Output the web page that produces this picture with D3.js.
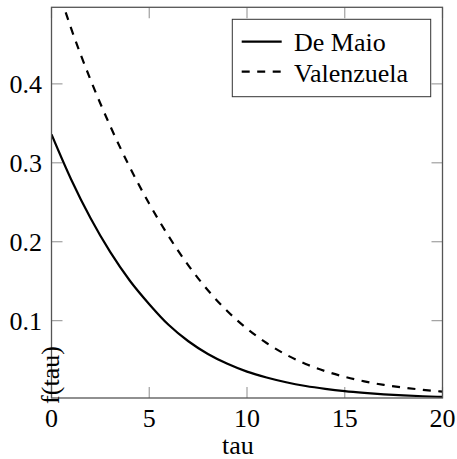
<!DOCTYPE html>
<html>
<head>
<meta charset="utf-8">
<script src="https://cdn.jsdelivr.net/npm/d3@7/dist/d3.min.js"></script>
<style>
  html, body { margin: 0; padding: 0; background: #fff; }
</style>
</head>
<body>
<svg id="chart" width="457" height="459"></svg>
<script>
const tau = [0,1,2,3,4,5,6,7,8,9,10,11,12,13,14,15,16,17,18,19,20];
const deMaio = [0.336,0.2792,0.2297,0.1871,0.1509,0.1209,0.0944,0.0739,0.0578,0.0453,0.0354,0.0279,0.0219,0.0172,0.0136,0.0107,0.0085,0.0067,0.0053,0.0042,0.0034];
const valenzuela = [0.547,0.4705,0.4050,0.3468,0.2946,0.2481,0.2066,0.1700,0.1385,0.1119,0.0898,0.0717,0.0569,0.0452,0.0360,0.0288,0.0231,0.0186,0.0152,0.0124,0.0101];
const xTicks = [0,5,10,15,20];
const yTicks = [0.1,0.2,0.3,0.4];
const seriesNames = ["De Maio","Valenzuela"];

const svg = d3.select("#chart");

// pick the first installed serif font
const candidates = ["Liberation Serif","Times New Roman","Tinos","DejaVu Serif","Noto Serif","FreeSerif","Nimbus Roman","Times"];
function widthOf(ff) {
  const t = svg.append("text").style("font-family", ff).style("font-size","40px").text("De Maio Valenzuela 0.123");
  const w = t.node().getComputedTextLength();
  t.remove();
  return w;
}
let FONT = "serif";
for (const c of candidates) {
  const a = widthOf(`'${c}', monospace`), b = widthOf(`'${c}', sans-serif`);
  if (Math.abs(a - b) < 0.01) { FONT = `'${c}', serif`; break; }
}

const pL = 51.5, pR = 442.5, pT = 7.3, pB = 398;
const x = d3.scaleLinear().domain([0,20]).range([pL,pR]);
const y = d3.scaleLinear().domain([0.002,0.497]).range([pB,pT]);
const fs = 26;
const tickLen = 11;

function txt(sel) {
  return sel.append("text").style("font-family", FONT)
    .style("font-size", fs + "px").attr("fill", "#000");
}

svg.append("clipPath").attr("id","clip").append("rect")
  .attr("x",pL).attr("y",pT).attr("width",pR-pL).attr("height",pB-pT);

// ticks (inner, all sides)
const tg = svg.append("g").attr("stroke","#a0a0a0").attr("stroke-width",1.2);
xTicks.forEach(t => {
  tg.append("line").attr("x1",x(t)).attr("x2",x(t)).attr("y1",pB).attr("y2",pB-tickLen);
  tg.append("line").attr("x1",x(t)).attr("x2",x(t)).attr("y1",pT).attr("y2",pT+tickLen);
});
yTicks.forEach(t => {
  tg.append("line").attr("x1",pL).attr("x2",pL+tickLen).attr("y1",y(t)).attr("y2",y(t));
  tg.append("line").attr("x1",pR).attr("x2",pR-tickLen).attr("y1",y(t)).attr("y2",y(t));
});

// curves
const pts = (arr) => tau.map((t,i)=>[t,arr[i]]);
const line = d3.line().x(d=>x(d[0])).y(d=>y(d[1])).curve(d3.curveMonotoneX);
const cg = svg.append("g").attr("clip-path","url(#clip)");
cg.append("path").datum(pts(deMaio)).attr("d",line)
  .attr("fill","none").attr("stroke","#000").attr("stroke-width",2.2);
cg.append("path").datum(pts(valenzuela)).attr("d",line)
  .attr("fill","none").attr("stroke","#000").attr("stroke-width",2.2)
  .attr("stroke-dasharray","8,7.5");

// axis box
svg.append("rect").attr("x",pL).attr("y",pT).attr("width",pR-pL).attr("height",pB-pT)
  .attr("fill","none").attr("stroke","#555").attr("stroke-width",1.3);

// tick labels
xTicks.forEach(t => {
  txt(svg).attr("x",x(t)).attr("y",427).attr("text-anchor","middle").text(d3.format("d")(t));
});
yTicks.forEach(t => {
  txt(svg).attr("x",42).attr("y",y(t)+9).attr("text-anchor","end").text(d3.format(".1f")(t));
});

// axis labels
txt(svg).attr("x",238).attr("y",454).attr("text-anchor","middle").text("tau");
txt(svg).attr("transform","translate(59,375) rotate(-90)").attr("text-anchor","middle").text("f(tau)");

// legend
const lg = svg.append("g");
lg.append("rect").attr("x",232.3).attr("y",19.3).attr("width",198.4).attr("height",77.4)
  .attr("fill","#fff").attr("stroke","#333").attr("stroke-width",1);
lg.append("line").attr("x1",241.7).attr("x2",281.7).attr("y1",41.7).attr("y2",41.7)
  .attr("stroke","#000").attr("stroke-width",2.2);
lg.append("line").attr("x1",241.7).attr("x2",281.7).attr("y1",71.7).attr("y2",71.7)
  .attr("stroke","#000").attr("stroke-width",2.2).attr("stroke-dasharray","8,7.5");
txt(lg).attr("x",294).attr("y",50.5).text(seriesNames[0]);
txt(lg).attr("x",294).attr("y",81.5).text(seriesNames[1]);
</script>
</body>
</html>
